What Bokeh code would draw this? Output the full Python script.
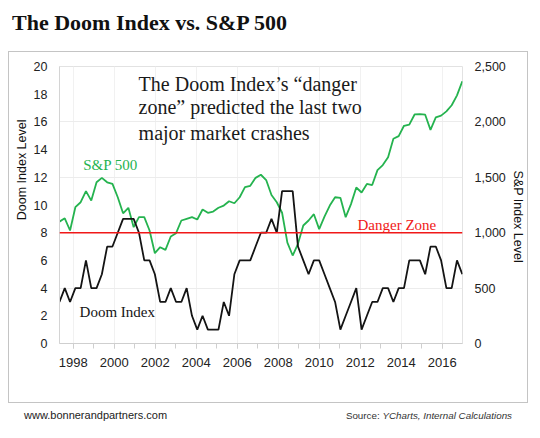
import numpy as np
from bokeh.plotting import figure
from bokeh.models import (Range1d, LinearAxis, FixedTicker, Span, Label, Div,
                          NumeralTickFormatter, Title)
from bokeh.layouts import column
from bokeh.embed import file_html
from bokeh.resources import INLINE

# ---------------- data ----------------
# observation times (fractional years, evenly spaced samples)
first_obs = 1997.33
last_obs = 2016.98
n_obs = 77
dates = np.linspace(first_obs, last_obs, n_obs)

doom_index = [3, 4, 3, 4, 4, 6, 4, 4, 5, 7,
              7, 8, 9, 9, 9, 8, 6, 6, 5, 3,
              3, 4, 3, 3, 4, 2, 1, 2, 1, 1,
              1, 3, 2, 5, 6, 6, 6, 7, 8, 8,
              9, 8, 11, 11, 11, 7, 6, 5, 6, 6,
              5, 4, 3, 1, 2, 3, 4, 1, 2, 3,
              3, 4, 4, 3, 4, 4, 6, 6, 6, 5,
              7, 7, 6, 4, 4, 6, 5]

sp500 = [1100, 1130, 1020, 1230, 1275, 1375, 1290, 1455, 1495, 1455,
         1440, 1320, 1175, 1225, 1050, 1140, 1140, 1020, 815, 869,
         845, 966, 996, 1110, 1125, 1140, 1119, 1209, 1180, 1191,
         1225, 1245, 1284, 1266, 1320, 1411, 1423, 1495, 1523, 1475,
         1340, 1275, 1180, 910, 794, 900, 1065, 1110, 1167, 1032,
         1145, 1245, 1320, 1315, 1140, 1258, 1408, 1363, 1440, 1430,
         1565, 1610, 1682, 1848, 1872, 1965, 1976, 2067, 2071, 2065,
         1928, 2040, 2057, 2095, 2150, 2240, 2367]

danger_level = 8
year_labels = [1998, 2000, 2002, 2004, 2006, 2008, 2010, 2012, 2014, 2016]
year_minor = list(range(1997, 2017))
doom_ticks = [0, 2, 4, 6, 8, 10, 12, 14, 16, 18, 20]
sp_ticks = [0, 500, 1000, 1500, 2000, 2500]
doom_max = 20
sp_max = 2500

# ---------------- styles ----------------
GREEN = "#25b34f"
BLACK = "#141414"
RED = "#f01818"
SANS = "Liberation Sans"
SERIF = "Liberation Serif"

p = figure(width=520, height=352,
           x_range=Range1d(1997.332, 2016.99),
           y_range=Range1d(0, doom_max),
           output_backend="svg", toolbar_location=None,
           min_border_left=50, min_border_right=67,
           min_border_top=14, min_border_bottom=61,
           background_fill_color="white", border_fill_color="white",
           margin=(0, 0, 0, 8))
p.styles = {"border": "1px solid #c4c4c4"}
p.outline_line_color = "#e2e2e2"
p.extra_y_ranges = {"sp": Range1d(0, sp_max)}

# grids
p.ygrid.ticker = FixedTicker(ticks=[t for t in doom_ticks if t % 4 == 0])
p.ygrid.grid_line_color = "#ececec"
p.xgrid.ticker = FixedTicker(ticks=year_labels)
p.xgrid.grid_line_color = "#f1f1f1"

# x axis
xa = p.xaxis[0]
xa.ticker = FixedTicker(ticks=year_labels, minor_ticks=year_minor)
xa.axis_line_color = "#cfcfcf"
xa.major_tick_line_color = "#cfcfcf"
xa.minor_tick_line_color = "#cfcfcf"
xa.major_tick_in = 0
xa.major_tick_out = 5
xa.minor_tick_in = 0
xa.minor_tick_out = 5
xa.major_label_standoff = 9
xa.major_label_text_font = SANS
xa.major_label_text_font_size = "13px"
xa.major_label_text_color = "#222222"

# left axis
ya = p.yaxis[0]
ya.ticker = FixedTicker(ticks=doom_ticks)
ya.axis_line_color = "#d4d4d4"
ya.major_tick_line_color = None
ya.minor_tick_line_color = None
ya.major_tick_out = 0
ya.major_tick_in = 0
ya.minor_tick_out = 0
ya.minor_tick_in = 0
ya.major_label_standoff = 12
ya.major_label_text_font = SANS
ya.major_label_text_font_size = "12.5px"
ya.major_label_text_color = "#222222"

# right axis
ra = LinearAxis(y_range_name="sp", ticker=FixedTicker(ticks=sp_ticks),
                formatter=NumeralTickFormatter(format="0,0"))
ra.axis_line_color = None
ra.major_tick_line_color = None
ra.minor_tick_line_color = None
ra.major_tick_out = 0
ra.major_tick_in = 0
ra.minor_tick_out = 0
ra.minor_tick_in = 0
ra.major_label_standoff = 12
ra.major_label_text_font = SANS
ra.major_label_text_font_size = "12.5px"
ra.major_label_text_color = "#222222"
p.add_layout(ra, "right")

# axis titles as side titles (offset along the axis from the top)
p.add_layout(Title(text="Doom Index Level", align="right", offset=53, standoff=4,
                   text_font=SANS, text_font_size="12.5px", text_font_style="normal",
                   text_color="#111111"), "left")
p.add_layout(Title(text="S&P Index Level", align="left", offset=104, standoff=4,
                   text_font=SANS, text_font_size="12.5px", text_font_style="normal",
                   text_color="#111111"), "right")

# series
p.line(dates, sp500, y_range_name="sp", line_color=GREEN, line_width=1.8)
p.line(dates, doom_index, line_color=BLACK, line_width=1.8)

p.add_layout(Span(location=danger_level, dimension="width",
                  line_color=RED, line_width=1.6))

# annotations
note_lines = ["The Doom Index\u2019s \u201cdanger",
              "zone\u201d predicted the last two",
              "major market crashes"]
for txt, yy in zip(note_lines, [18.77, 17.04, 15.23]):
    p.add_layout(Label(x=2001.19, y=yy, text=txt, text_font=SERIF,
                       text_font_size="20px", text_color="#1a1a1a",
                       text_align="left", text_baseline="middle"))

p.add_layout(Label(x=1998.49, y=12.92, text="S&P 500", text_font=SERIF,
                   text_font_size="15px", text_color=GREEN,
                   text_align="left", text_baseline="middle"))
p.add_layout(Label(x=1998.31, y=2.31, text="Doom Index", text_font=SERIF,
                   text_font_size="15px", text_color=BLACK,
                   text_align="left", text_baseline="middle"))
p.add_layout(Label(x=2011.87, y=8.52, text="Danger Zone", text_font=SERIF,
                   text_font_size="15px", text_color=RED,
                   text_align="left", text_baseline="middle"))

title = Div(text=("<div style=\"font-family:'Liberation Serif',serif;font-weight:bold;"
                  "font-size:22px;color:#111;padding:2px 0 0 4px;line-height:25px;\">"
                  "The Doom Index vs. S&amp;P 500</div>"),
            width=522, height=43, margin=(8, 0, 0, 8))

footer = Div(text=("<div style=\"display:flex;justify-content:space-between;align-items:center;"
                   "font-family:'Liberation Sans',Arial,sans-serif;color:#222;box-sizing:border-box;"
                   "width:504px;padding:5px 0 0 16px;\">"
                   "<span style=\"font-size:11px;\">www.bonnerandpartners.com</span>"
                   "<span style=\"font-size:9.8px;color:#333;\">Source: "
                   "<i>YCharts, Internal Calculations</i></span></div>"),
             width=522, height=24, margin=(0, 0, 0, 8))

layout = column(title, p, footer, spacing=0)

open("out.html", "w").write(file_html(layout, INLINE))
